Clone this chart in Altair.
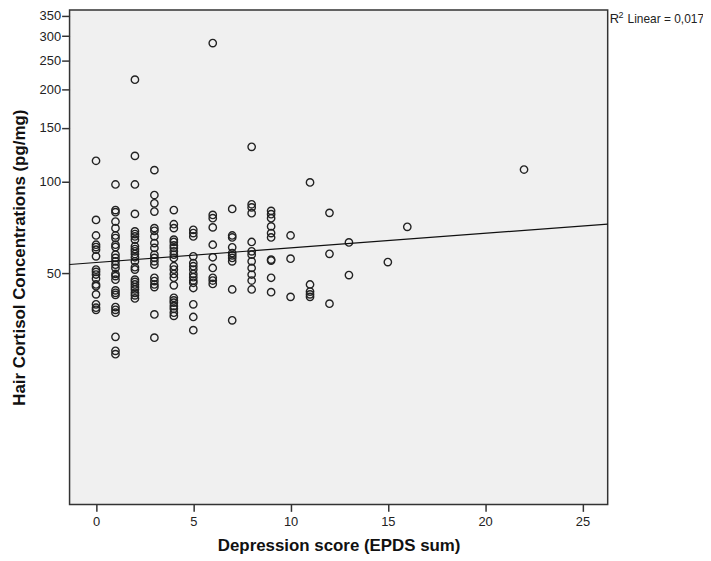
import altair as alt
import pandas as pd

# Hair cortisol (pg/mg) read per depression score (EPDS sum)
score_0 = [117, 74.8, 66.5, 62, 60.9, 59.7, 56.8, 51.4, 50.5, 49.5, 48, 45.9, 45.3, 42.6, 39.5, 38.5, 37.9]
score_1 = [97.8, 80.6, 79.3, 73.9, 70.3, 66.5, 65.2, 62, 60.9, 57.5, 56.1, 54.7, 53.3, 52, 49.7, 48.9,
           47.6, 43.9, 43.1, 42.4, 38.7, 37.9, 37.1, 30.9, 27.8, 27.1]
score_2 = [216, 121.4, 97.8, 78.3, 68.6, 67.2, 66, 64.4, 61.3, 60, 59, 57.8, 56.4, 54.7, 52.3, 51.4,
           47.6, 46.8, 45.9, 45, 44.2, 43.1, 42.3, 41.3]
score_3 = [109, 90.3, 84.8, 79.7, 70.3, 68.9, 66, 62.8, 60.5, 57.5, 56.1, 54.7, 53.3, 48.3, 47.1, 45.9,
           45, 36.6, 30.7]
score_4 = [80.6, 72.4, 70.3, 64.4, 63.3, 61.7, 60.5, 59, 57.5, 56.1, 52.7, 51.4, 49.7, 48.3, 45.6, 41.5,
           40.7, 40, 39, 38.2, 37.1, 36.2]
score_5 = [69.4, 67.7, 66, 56.8, 54, 52.7, 51.4, 49.7, 48.5, 47.3, 46.5, 44.7, 39.5, 35.9, 32.5]
score_6 = [285, 77.7, 75.8, 70.7, 62, 56.4, 52, 48.3, 47.3, 46.1]
score_7 = [81.3, 66.5, 65.5, 60.8, 58.2, 57.2, 56.1, 54.7, 44.2, 35]
score_8 = [130, 84.2, 82.2, 78.7, 63.3, 59, 57.5, 54.7, 52, 49.5, 47.3, 44.2]
score_9 = [80.1, 78.1, 75.8, 71.2, 67.7, 65.5, 55.4, 55, 48.3, 43.3]
score_10 = [66.5, 55.8, 41.8]
score_11 = [99.3, 45.9, 43.5, 42.6, 41.8]
score_12 = [78.9, 57.9, 39.7]
score_13 = [63.1, 49.3]
score_15 = [54.4]
score_16 = [71]
score_22 = [109.5]

columns = {0: score_0, 1: score_1, 2: score_2, 3: score_3, 4: score_4, 5: score_5, 6: score_6,
           7: score_7, 8: score_8, 9: score_9, 10: score_10, 11: score_11, 12: score_12,
           13: score_13, 15: score_15, 16: score_16, 22: score_22}

# fitted line end points
fit_x = [-1.36, 26.3]
fit_y = [53.4, 72.5]

x_ticks = [0, 5, 10, 15, 20, 25]
y_ticks = [50, 100, 150, 200, 250, 300, 350]
x_domain = [-1.36, 26.3]
y_domain = [8.7, 366]

rows = [{"x": k, "y": v} for k, vals in columns.items() for v in vals]
df = pd.DataFrame(rows)
fit_df = pd.DataFrame({"x": fit_x, "y": fit_y})

FONT = "Liberation Sans"

xscale = alt.Scale(domain=x_domain, nice=False, zero=False)
yscale = alt.Scale(type="log", domain=y_domain, nice=False)

xaxis = alt.Axis(values=x_ticks, title="Depression score (EPDS sum)", grid=False, domain=False,
                 tickSize=7, tickColor="#333", tickWidth=1.5, labelPadding=4, labelFontSize=13,
                 labelColor="#222", labelFont=FONT, titleFont=FONT, titleFontSize=17,
                 titleFontWeight="bold", titleColor="#111", titlePadding=9)
yaxis = alt.Axis(values=y_ticks, title="Hair Cortisol Concentrations (pg/mg)", grid=False,
                 domain=False, tickSize=8, tickColor="#333", tickWidth=1.5, labelPadding=1,
                 labelFontSize=13, labelColor="#222", labelFont=FONT, titleFont=FONT,
                 titleFontSize=17, titleFontWeight="bold", titleColor="#111", titlePadding=11)

points = alt.Chart(df).mark_point(filled=False, shape="circle", size=55, stroke="#222",
                                  strokeWidth=1.4, opacity=1).encode(
    x=alt.X("x:Q", scale=xscale, axis=xaxis),
    y=alt.Y("y:Q", scale=yscale, axis=yaxis),
)

line = alt.Chart(fit_df).mark_line(color="#111", strokeWidth=1.2).encode(
    x=alt.X("x:Q", scale=xscale),
    y=alt.Y("y:Q", scale=yscale),
)

label_r = alt.Chart(pd.DataFrame({"t": ["R"]})).mark_text(
    align="left", baseline="middle", fontSize=13, font=FONT, color="#222", clip=False
).encode(text="t:N", x=alt.value(544), y=alt.value(9))
label_sup = alt.Chart(pd.DataFrame({"t": ["2"]})).mark_text(
    align="left", baseline="middle", fontSize=9, font=FONT, color="#222", clip=False
).encode(text="t:N", x=alt.value(553), y=alt.value(5))
label_rest = alt.Chart(pd.DataFrame({"t": ["Linear = 0,017"]})).mark_text(
    align="left", baseline="middle", fontSize=12, font=FONT, color="#222", clip=False
).encode(text="t:N", x=alt.value(562), y=alt.value(9))

chart = alt.layer(points, line, label_r, label_sup, label_rest).properties(
    width=542, height=498,
    autosize=alt.AutoSizeParams(type="none"),
    padding={"left": 62, "top": 0, "right": 96, "bottom": 53},
).configure_view(fill="#F0F0F0", stroke="#333", strokeWidth=1.5)

chart.save("out.html", embed_options={"renderer": "svg", "actions": False})
